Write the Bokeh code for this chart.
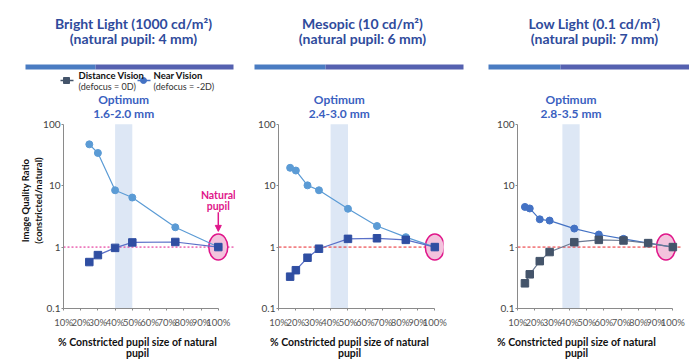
from bokeh.plotting import figure
from bokeh.models import (Range1d, FixedTicker, NumeralTickFormatter, BoxAnnotation,
                          Span, Label, Arrow, NormalHead)
from bokeh.layouts import row, column
from bokeh.embed import file_html
from bokeh.resources import INLINE

# ---------------- data ----------------
titles_line1 = ["Bright Light (1000 cd/m²)", "Mesopic (10 cd/m²)", "Low Light (0.1 cd/m²)"]
titles_line2 = ["(natural pupil: 4 mm)", "(natural pupil: 6 mm)", "(natural pupil: 7 mm)"]
optimum_text = ["1.6-2.0 mm", "2.4-3.0 mm", "2.8-3.5 mm"]
band_lo = [0.40, 0.40, 0.36]
band_hi = [0.50, 0.50, 0.46]

bright_x = [0.25, 0.30, 0.40, 0.50, 0.75, 1.00]
bright_near = [47.0, 34.0, 8.4, 6.4, 2.1, 1.0]
bright_dist = [0.57, 0.74, 0.97, 1.19, 1.21, 1.0]

meso_x = [0.167, 0.200, 0.267, 0.333, 0.500, 0.667, 0.833, 1.000]
meso_near = [19.5, 17.6, 10.1, 8.4, 4.2, 2.2, 1.45, 1.0]
meso_dist = [0.33, 0.42, 0.67, 0.94, 1.36, 1.39, 1.31, 1.0]

low_x = [0.143, 0.171, 0.229, 0.286, 0.429, 0.571, 0.714, 0.857, 1.000]
low_near = [4.5, 4.25, 2.83, 2.7, 2.0, 1.6, 1.36, 1.16, 1.0]
low_dist = [0.257, 0.36, 0.59, 0.83, 1.2, 1.31, 1.28, 1.16, 1.0]

x_ticks = [0.1, 0.2, 0.3, 0.4, 0.5, 0.6, 0.7, 0.8, 0.9, 1.0]
y_ticks = [0.1, 1, 10, 100]
y_tick_labels = ["0.1", "1", "10", "100"]
x_title = ["% Constricted pupil size of natural", "pupil"]
legend_names = ["Distance Vision", "Near Vision"]
legend_notes = ["(defocus = 0D)", "(defocus = -2D)"]

FONT = "Lato"
TITLE_C = "#2f4b9c"
OPT_C = "#3a5fbf"
PINK = "#e0168a"

HEAD_H = 92
PLOT_H = 238
FOOT_H = 29
Y_TOP = 328  # frame extends above 100 to hold the "Optimum" captions

panels = [
    dict(x=bright_x, near=bright_near, dist=bright_dist, w=245, bl=63, br=10, xend=1.1,
         near_c="#5b9bd5", dist_c="#2f4ea2", dline_c="#5a70c8", ref_c=PINK, ref_dash="2 2",
         ell_x=1.0, tcx=133, bar=(25, 95, 233), fcx=137),
    dict(x=meso_x, near=meso_near, dist=meso_dist, w=231, bl=33, br=33, xend=1.05,
         near_c="#5b9bd5", dist_c="#2f4ea2", dline_c="#5a70c8", ref_c="#e8262b", ref_dash="3 2",
         ell_x=1.0, tcx=117, bar=(9, 80, 218), fcx=104),
    dict(x=low_x, near=low_near, dist=low_dist, w=213, bl=41, br=8, xend=1.05,
         near_c="#4472c4", dist_c="#44546a", dline_c="#6a7890", ref_c="#e8262b", ref_dash="3 2",
         ell_x=0.96, tcx=118, bar=(12, 84, 213), fcx=100),
]


def blank(w, h):
    f = figure(width=w, height=h, x_range=Range1d(0, w), y_range=Range1d(0, h),
               x_axis_location=None, y_axis_location=None, output_backend="svg",
               toolbar_location=None, min_border=0)
    f.outline_line_color = None
    f.grid.visible = False
    return f


heads, plots, foots = [], [], []
for i, cfg in enumerate(panels):
    # ---------- header ----------
    h = blank(cfg["w"], HEAD_H)
    tkw = dict(text_align="center", text_baseline="middle", text_font=FONT,
               text_font_style="bold", text_font_size="14px", text_color=TITLE_C)
    h.add_layout(Label(x=cfg["tcx"], y=69, text=titles_line1[i], **tkw))
    h.add_layout(Label(x=cfg["tcx"], y=54, text=titles_line2[i], **tkw))
    b0, b1, b2 = cfg["bar"]
    h.quad(left=[b0], right=[b1], bottom=[23], top=[28], fill_color="#4a7cc2", line_color=None)
    h.quad(left=[b1], right=[b2], bottom=[23], top=[28], fill_color="#5561b0", line_color=None)
    if i == 0:
        h.segment(x0=[60], y0=[12], x1=[73], y1=[12], line_color="#44546a", line_width=1.5)
        h.scatter(x=[66], y=[12], marker="square", size=6, fill_color="#44546a", line_color="#44546a")
        h.segment(x0=[137], y0=[12], x1=[150], y1=[12], line_color="#4472c4", line_width=1.5)
        h.scatter(x=[143], y=[12], marker="circle", size=6, fill_color="#4472c4", line_color="#4472c4")
        gkw = dict(text_align="left", text_baseline="middle", text_font=FONT)
        for lx, nm, nt in zip([78, 153], legend_names, legend_notes):
            h.add_layout(Label(x=lx, y=17, text=nm, text_font_style="bold",
                               text_font_size="9.5px", text_color="#111111", **gkw))
            h.add_layout(Label(x=lx, y=6, text=nt, text_font_size="9px", text_color="#333333", **gkw))
    heads.append(h)

    # ---------- plot ----------
    p = figure(width=cfg["w"], height=PLOT_H, x_range=Range1d(0.1, cfg["xend"]),
               y_range=Range1d(0.1, Y_TOP), y_axis_type="log", output_backend="svg",
               toolbar_location=None, min_border_left=cfg["bl"], min_border_right=cfg["br"],
               min_border_top=0, min_border_bottom=20)
    p.outline_line_color = None
    p.xgrid.visible = False
    p.ygrid.visible = False

    xa = p.xaxis[0]
    xa.ticker = FixedTicker(ticks=x_ticks)
    xa.formatter = NumeralTickFormatter(format="0%")
    xa.bounds = (0.1, 1.0)
    xa.axis_line_color = "#8a8a8a"
    xa.major_tick_line_color = "#8a8a8a"
    xa.major_tick_out = 2
    xa.major_tick_in = 0
    xa.minor_tick_line_color = None
    xa.major_label_text_font = FONT
    xa.major_label_text_font_size = "9.5px"
    xa.major_label_text_color = "#555555"
    xa.major_label_standoff = 6

    ya = p.yaxis[0]
    ya.ticker = FixedTicker(ticks=y_ticks)
    ya.major_label_overrides = {t: s for t, s in zip(y_ticks, y_tick_labels)}
    ya.bounds = (0.1, 100)
    ya.axis_line_color = "#8a8a8a"
    ya.major_tick_line_color = "#8a8a8a"
    ya.major_tick_out = 2
    ya.major_tick_in = 0
    ya.minor_tick_line_color = None
    ya.major_label_text_font = FONT
    ya.major_label_text_font_size = "10px"
    ya.major_label_text_color = "#444444"
    ya.major_label_standoff = 1
    if i == 0:
        ya.axis_label = "Image Quality Ratio\n(constricted/natural)"
        ya.axis_label_text_font = FONT
        ya.axis_label_text_font_style = "bold"
        ya.axis_label_text_font_size = "9.5px"
        ya.axis_label_text_color = "#111111"
        ya.axis_label_standoff = -4

    p.add_layout(BoxAnnotation(left=band_lo[i], right=band_hi[i], bottom=0.1, top=100,
                               fill_color="#dde7f5", fill_alpha=1.0, line_color=None,
                               level="underlay"))
    p.add_layout(Span(location=1, dimension="width", line_color=cfg["ref_c"], line_width=1,
                      line_dash=cfg["ref_dash"], level="underlay"))
    p.ellipse(x=[cfg["ell_x"]], y=[1.0], width=19, height=26, width_units="screen",
              height_units="screen", fill_color="#f3c3dd", line_color=PINK, line_width=1.5)

    p.line(cfg["x"], cfg["near"], line_color=cfg["near_c"], line_width=1.2)
    p.scatter(cfg["x"], cfg["near"], marker="circle", size=7, fill_color=cfg["near_c"],
              line_color=cfg["near_c"])
    p.line(cfg["x"], cfg["dist"], line_color=cfg["dline_c"], line_width=1.2)
    p.scatter(cfg["x"], cfg["dist"], marker="square", size=7.5, fill_color=cfg["dist_c"],
              line_color=cfg["dist_c"])

    okw = dict(x_units="data", y_units="screen", text_align="center", text_baseline="middle",
               text_font=FONT, text_font_style="bold", text_font_size="12px", text_color=OPT_C)
    mid = (band_lo[i] + band_hi[i]) / 2
    p.add_layout(Label(x=mid, y=209, text="Optimum", **okw))
    p.add_layout(Label(x=mid, y=195, text=optimum_text[i], **okw))

    if i == 0:
        nkw = dict(x_units="data", y_units="screen", text_align="center", text_baseline="middle",
                   text_font=FONT, text_font_style="bold", text_font_size="10.5px", text_color=PINK)
        p.add_layout(Label(x=1.0, y=114, text="Natural", **nkw))
        p.add_layout(Label(x=1.0, y=103, text="pupil", **nkw))
        p.add_layout(Arrow(x_start=1.0, y_start=3.7, x_end=1.0, y_end=1.8, line_color=PINK,
                           line_width=1.5, end=NormalHead(size=6, fill_color=PINK, line_color=PINK)))
    plots.append(p)

    # ---------- footer (x-axis title) ----------
    f = blank(cfg["w"], FOOT_H)
    lkw = dict(text_align="center", text_baseline="middle", text_font=FONT,
               text_font_style="bold", text_font_size="10.5px", text_color="#111111")
    f.add_layout(Label(x=cfg["fcx"], y=18, text=x_title[0], **lkw))
    f.add_layout(Label(x=cfg["fcx"], y=7, text=x_title[1], **lkw))
    foots.append(f)

layout = column(row(*heads), row(*plots), row(*foots))
open("out.html", "w").write(file_html(layout, INLINE))
